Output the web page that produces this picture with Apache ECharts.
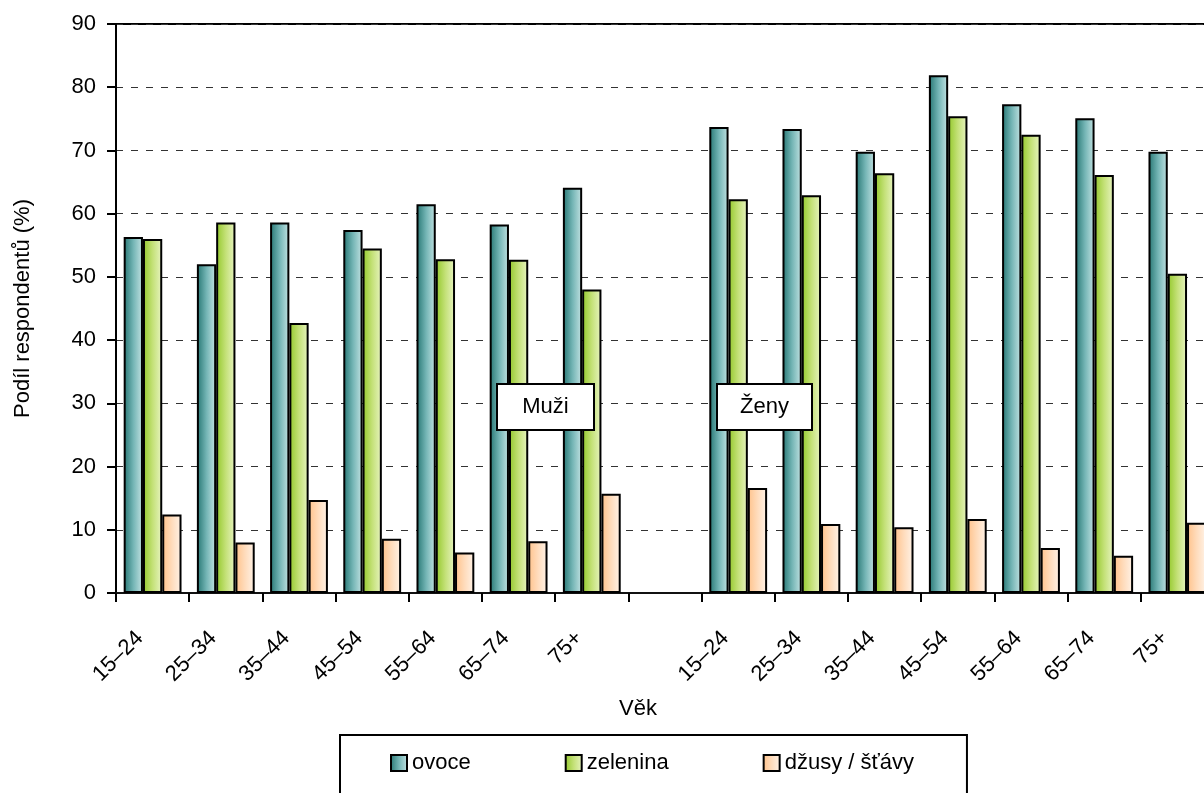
<!DOCTYPE html>
<html>
<head>
<meta charset="utf-8">
<script src="https://cdn.jsdelivr.net/npm/echarts@6/dist/echarts.min.js"></script>
<style>
html,body{margin:0;padding:0;background:#fff;overflow:hidden;}
#chart{width:1204px;height:793px;}
</style>
</head>
<body>
<div id="chart"></div>
<script>
const categories = ['15–24','25–34','35–44','45–54','55–64','65–74','75+','','15–24','25–34','35–44','45–54','55–64','65–74','75+'];
const ovoce    = [56.3, 52.0, 58.6, 57.4, 61.5, 58.3, 64.1, null, 73.7, 73.4, 69.8, 81.9, 77.3, 75.1, 69.8];
const zelenina = [56.0, 58.6, 42.7, 54.5, 52.8, 52.7, 48.0, null, 62.3, 62.9, 66.4, 75.4, 72.5, 66.1, 50.5];
const dzusy    = [12.4, 8.0, 14.7, 8.6, 6.4, 8.2, 15.7, null, 16.6, 10.9, 10.4, 11.7, 7.1, 5.9, 11.1];
const seriesNames = ['ovoce','zelenina','džusy / šťávy'];
const yTicks = {min:0, max:90, interval:10};
const groupLabels = ['Muži','Ženy'];

const FONT = "'Liberation Sans',Arial,sans-serif";
const FS = 22;
function grad(c0,c1,c2){
  return {type:'linear',x:0,y:0,x2:1,y2:0,colorStops:[{offset:0,color:c0},{offset:0.5,color:c1},{offset:1,color:c2}]};
}
const fills = [
  grad('#257572','#74b5b5','#c4e3e3'),
  grad('#93c82a','#c4e178','#e8f4c2'),
  grad('#ffc28a','#ffdcbc','#fff3e8')
];
const chart = echarts.init(document.getElementById('chart'));
function box(x,y,w,h,t){
  return {type:'group',x:x,y:y,z:100,children:[
    {type:'rect',z:100,shape:{x:0,y:0,width:w,height:h},style:{fill:'#fff',stroke:'#000',lineWidth:2}},
    {type:'text',z:101,x:w/2,y:h/2,style:{text:t,fontFamily:FONT,fontSize:FS,fill:'#000',align:'center',verticalAlign:'middle'}}
  ]};
}
const data = [ovoce, zelenina, dzusy];
chart.setOption({
  animation:false,
  textStyle:{fontFamily:FONT},
  grid:{left:116, top:24, width:1098, height:569, outerBoundsMode:'none', containLabel:false,
        show:true, borderColor:'#000', borderWidth:2, backgroundColor:'transparent'},
  legend:{
    left:340, top:735, padding:[17,53,40,50], itemGap:94, itemWidth:16, itemHeight:16,
    borderColor:'#000', borderWidth:2, icon:'rect',
    textStyle:{fontFamily:FONT, fontSize:FS, color:'#000'},
    data:seriesNames
  },
  xAxis:{
    type:'category', data:categories,
    name:'Věk', nameLocation:'middle', nameGap:105,
    nameTextStyle:{fontFamily:FONT, fontSize:FS, color:'#000', padding:[0,54,0,0]},
    axisLine:{show:true, lineStyle:{color:'#111', width:2}},
    axisTick:{show:true, interval:0, length:9, lineStyle:{color:'#000', width:2}},
    axisLabel:{interval:0, rotate:45, margin:29, padding:[0,18,0,0], fontFamily:FONT, fontSize:FS, color:'#000'}
  },
  yAxis:{
    type:'value', min:yTicks.min, max:yTicks.max, interval:yTicks.interval,
    name:'Podíl respondentů (%)', nameLocation:'middle', nameRotate:90, nameGap:82,
    nameTextStyle:{fontFamily:FONT, fontSize:FS, color:'#000'},
    axisLine:{show:true, lineStyle:{color:'#000', width:2}},
    axisTick:{show:true, length:9, lineStyle:{color:'#000', width:2}},
    axisLabel:{margin:20, fontFamily:FONT, fontSize:FS, color:'#000'},
    splitLine:{show:true, lineStyle:{color:'#333', width:1, type:[7,8]}}
  },
  series: seriesNames.map((n,i)=>({
    name:n, type:'bar', data:data[i], barGap:'0%', barCategoryGap:'21%',
    itemStyle:{color:fills[i], borderColor:'#000', borderWidth:2}
  })),
  graphic:[ box(497,384,97,46,groupLabels[0]), box(717,384,95,46,groupLabels[1]) ]
});
</script>
</body>
</html>
